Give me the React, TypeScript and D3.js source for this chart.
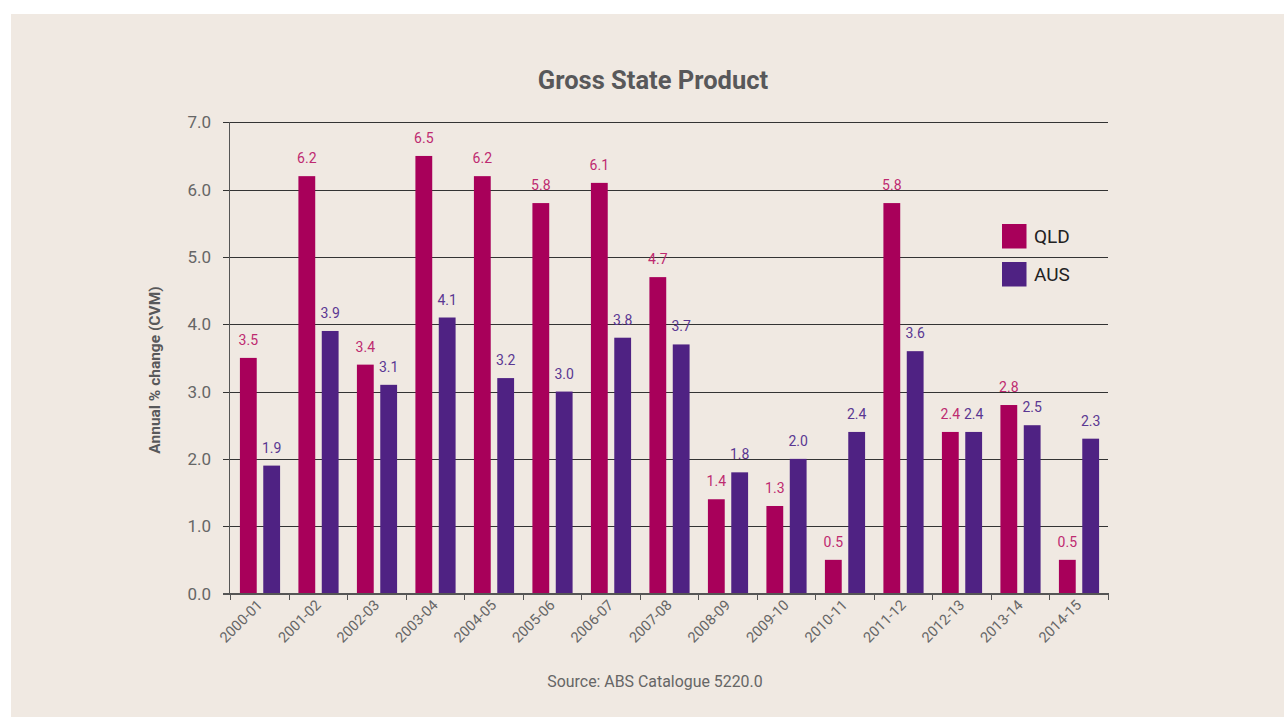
import React from "react";
import * as d3 from "d3";

const categories = ["2000-01","2001-02","2002-03","2003-04","2004-05","2005-06","2006-07","2007-08","2008-09","2009-10","2010-11","2011-12","2012-13","2013-14","2014-15"];
const qldValues = [3.5, 6.2, 3.4, 6.5, 6.2, 5.8, 6.1, 4.7, 1.4, 1.3, 0.5, 5.8, 2.4, 2.8, 0.5];
const ausValues = [1.9, 3.9, 3.1, 4.1, 3.2, 3.0, 3.8, 3.7, 1.8, 2.0, 2.4, 3.6, 2.4, 2.5, 2.3];
const seriesNames = ["QLD", "AUS"];
const yTicks = [0, 1, 2, 3, 4, 5, 6, 7];

const colors: Record<string, string> = { QLD: "#A8005A", AUS: "#4F2283" };
const labelColors: Record<string, string> = { QLD: "#BE2A70", AUS: "#5A3792" };

const FONT = "Roboto, 'Open Sans', sans-serif";

export default function App() {
  const W = 1285, H = 717;
  const x = d3.scaleBand<string>().domain(categories).range([230, 1107.5]).padding(0);
  const sub = d3.scaleBand<string>().domain(seriesNames).range([1.5, x.bandwidth()]).paddingInner(0.28).paddingOuter(0.36);
  const y = d3.scaleLinear().domain([0, 7]).range([593.5, 122.3]);
  const fmt = d3.format(".1f");
  const series = [
    { name: "QLD", values: qldValues },
    { name: "AUS", values: ausValues },
  ];
  const tickXs = [...categories.map((c) => x(c)!), x.range()[1]];

  return (
    <svg width={W} height={H} style={{ position: "absolute", left: 0, top: 0 }} fontFamily={FONT}>
      <rect x={0} y={0} width={W} height={H} fill="#ffffff" />
      <rect x={11} y={14} width={1273} height={703} fill="#F0E9E2" />
      <text x={653} y={89} textAnchor="middle" fontSize={25.5} fontWeight="bold" fill="#58585A">Gross State Product</text>

      {/* gridlines */}
      {yTicks.map((t) => (
        <g key={t}>
          <line x1={223} x2={1108} y1={Math.round(y(t)) + 0.5} y2={Math.round(y(t)) + 0.5} stroke={t === 0 ? "#555" : "#333"} strokeWidth={1} />
          <text x={211} y={y(t)} dy="0.36em" textAnchor="end" fontSize={17} fill="#666">{fmt(t)}</text>
        </g>
      ))}

      {/* bars */}
      {series.map((s) => (
        <g key={s.name}>
          {s.values.map((v, i) => {
            const bx = x(categories[i])! + sub(s.name)!;
            return (
              <g key={i}>
                <rect x={bx} y={y(v)} width={sub.bandwidth()} height={y(0) - y(v)} fill={colors[s.name]} />
                <text x={bx + sub.bandwidth() / 2} y={y(v) - 13} textAnchor="middle" fontSize={14} fill={labelColors[s.name]}>{fmt(v)}</text>
              </g>
            );
          })}
        </g>
      ))}

      {/* axes */}
      <line x1={229.5} x2={229.5} y1={122} y2={594} stroke="#555" strokeWidth={1} />
      <line x1={223} x2={1108} y1={593.5} y2={593.5} stroke="#555" strokeWidth={1} />
      {tickXs.map((tx, i) => (
        <line key={i} x1={Math.round(tx) + 0.5} x2={Math.round(tx) + 0.5} y1={593} y2={600} stroke="#555" strokeWidth={1} />
      ))}
      {categories.map((c) => {
        const cx = x(c)! + x.bandwidth() / 2 + 4;
        const cy = 606;
        return (
          <text key={c} x={cx} y={cy} transform={`rotate(-45 ${cx} ${cy})`} textAnchor="end" fontSize={14.5} fill="#666">{c}</text>
        );
      })}

      <text transform={`translate(160 370) rotate(-90)`} textAnchor="middle" fontSize={15.5} fontWeight="bold" fill="#58585A">Annual % change (CVM)</text>

      {/* legend */}
      {seriesNames.map((n, i) => (
        <g key={n}>
          <rect x={1002} y={224 + i * 38} width={24.5} height={24.5} fill={colors[n]} />
          <text x={1034} y={243 + i * 38} fontSize={19} fill="#222">{n}</text>
        </g>
      ))}

      <text x={655} y={687} textAnchor="middle" fontSize={15.9} fill="#666">Source: ABS Catalogue 5220.0</text>
    </svg>
  );
}
